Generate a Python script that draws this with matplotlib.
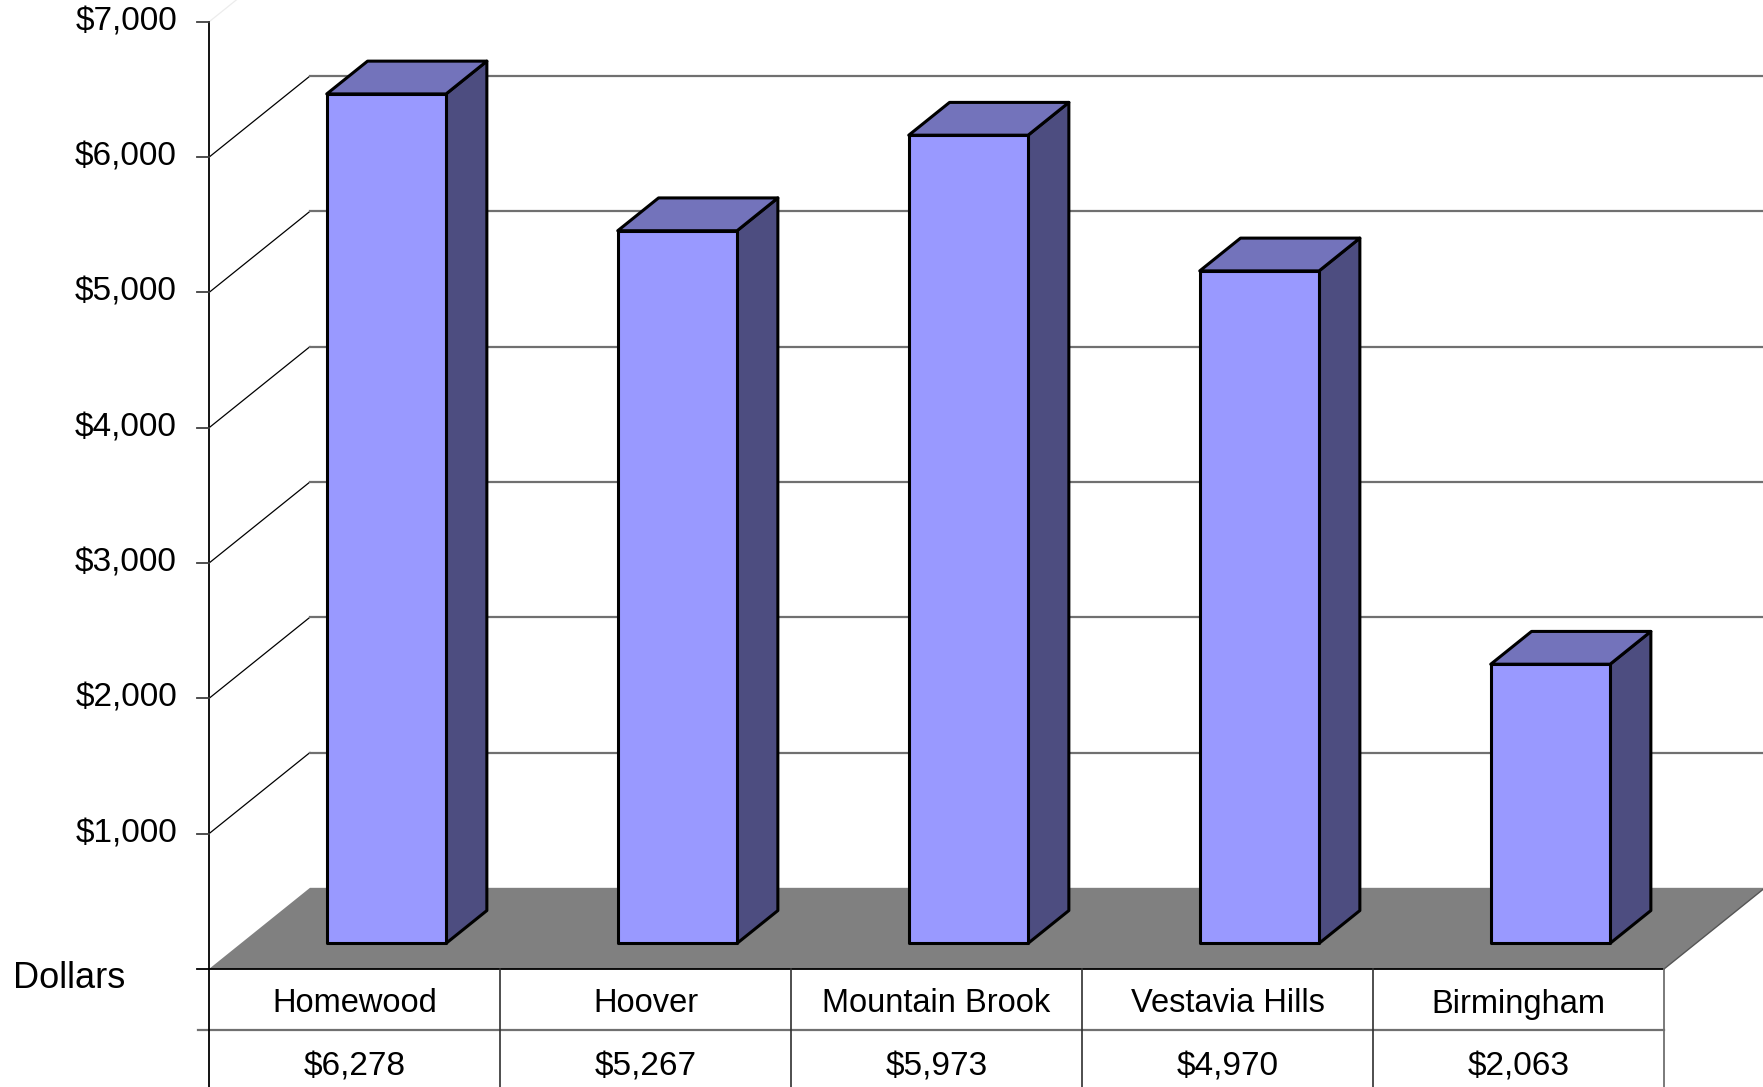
import numpy as np
import matplotlib.pyplot as plt
from matplotlib.patches import Polygon

plt.rcParams['font.family'] = ['Liberation Sans', 'DejaVu Sans']

# Average per-pupil spending by district
cities = ['Homewood', 'Hoover', 'Mountain Brook', 'Vestavia Hills', 'Birmingham']
spending = [6278, 5267, 5973, 4970, 2063]
y_ticks = [1000, 2000, 3000, 4000, 5000, 6000, 7000]
y_axis_label = 'Dollars'

# 3D look: how far the back wall sits from the front plane
depth_dx = 0.347      # in category widths
depth_dy = 600.0      # in dollars
bar_front = 0.316     # fraction of the depth where the bar front face sits
bar_back = 0.72
bar_half = 0.205

FRONT = '#9999FF'
TOP = '#7373BB'
SIDE = '#4D4D80'
FLOOR = '#808080'
GRID = '#707070'

W, H, DPI = 1763, 1087, 100
fig = plt.figure(figsize=(W / DPI, H / DPI), dpi=DPI)
ax = fig.add_axes([0, 0, 1, 1])

# pixel layout of the plot frame
x0_px, unit_px = 209.0, 291.0
y0_px, per1000_px = 969.0, 135.3
ax.set_xlim(-x0_px / unit_px, (W - x0_px) / unit_px)
ax.set_ylim(-(H - y0_px) / per1000_px * 1000, y0_px / per1000_px * 1000)
ax.axis('off')

n = len(cities)
px_y = 1000 / per1000_px   # dollars per pixel
px_x = 1 / unit_px         # categories per pixel

# floor
floor = Polygon([(0, 0), (n, 0), (n + depth_dx, depth_dy), (depth_dx, depth_dy)],
                closed=True, facecolor=FLOOR, edgecolor='none', zorder=1)
ax.add_patch(floor)
ax.plot([n, n + depth_dx], [0, depth_dy], color='#555555', lw=1, zorder=2)

# back wall gridlines and the diagonals on the side wall
for t in y_ticks:
    diag_color = 'black' if t < y_ticks[-1] else '#ececec'
    ax.plot([0, depth_dx], [t, t + depth_dy], color=diag_color, lw=0.9, zorder=1)
    ax.plot([depth_dx, n + depth_dx + 1], [t + depth_dy, t + depth_dy],
            color=GRID, lw=1.6, zorder=1)

# value axis with ticks
ax.plot([0, 0], [0, y_ticks[-1]], color='black', lw=1.3, zorder=3)
for t in y_ticks:
    ax.plot([-12 * px_x, 0], [t, t], color='#404040', lw=1.3, zorder=3)
    ax.text(-32 * px_x, t, f'${t:,}', ha='right', va='center', fontsize=24)

# bars
for i, v in enumerate(spending):
    cx = i + 0.5
    xl = cx - bar_half + bar_front * depth_dx
    xr = cx + bar_half + bar_front * depth_dx
    yb = bar_front * depth_dy
    yt = v + yb
    ddx = (bar_back - bar_front) * depth_dx
    ddy = (bar_back - bar_front) * depth_dy
    side = Polygon([(xr, yb), (xr + ddx, yb + ddy), (xr + ddx, yt + ddy), (xr, yt)],
                   facecolor=SIDE, edgecolor='black', lw=2.2, joinstyle='round', zorder=4)
    top = Polygon([(xl, yt), (xr, yt), (xr + ddx, yt + ddy), (xl + ddx, yt + ddy)],
                  facecolor=TOP, edgecolor='black', lw=2.2, joinstyle='round', zorder=4)
    front = Polygon([(xl, yb), (xr, yb), (xr, yt), (xl, yt)],
                    facecolor=FRONT, edgecolor='black', lw=2.2, joinstyle='round', zorder=5)
    for p in (side, top, front):
        ax.add_patch(p)

# data table under the chart
row_split = -61 * px_y
bottom = ax.get_ylim()[0]
ax.plot([-12 * px_x, n], [0, 0], color='black', lw=1.3, zorder=3)
ax.plot([-11 * px_x, n], [row_split, row_split], color=GRID, lw=1.6, zorder=3)
ax.plot([0, 0], [0, bottom], color='black', lw=1.3, zorder=3)
for i in range(1, n):
    ax.plot([i, i], [0, bottom], color='#303030', lw=1.2, zorder=3)
ax.plot([n, n], [0, bottom], color=GRID, lw=1.3, zorder=3)

for i, (name, v) in enumerate(zip(cities, spending)):
    ax.text(i + 0.5, -35 * px_y, name, ha='center', va='center', fontsize=23.5)
    ax.text(i + 0.5, -98 * px_y, f'${v:,}', ha='center', va='center', fontsize=24)

ax.text(-196 * px_x, -10 * px_y, y_axis_label, ha='left', va='center', fontsize=26)

fig.savefig('out.png', dpi=DPI)
